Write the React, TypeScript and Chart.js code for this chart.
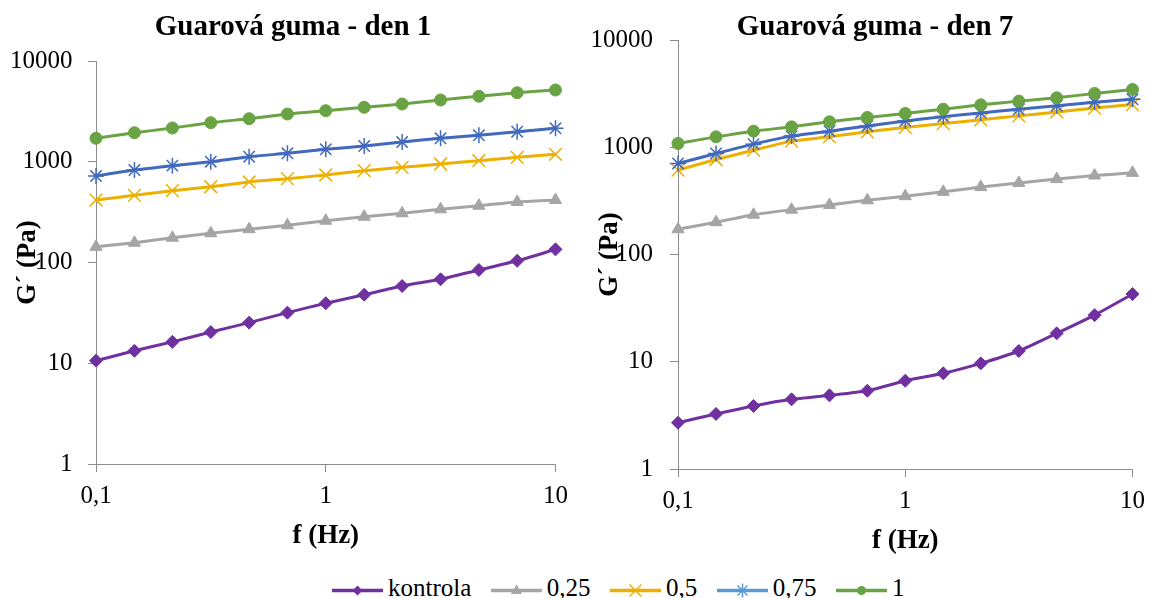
import React, { useEffect, useRef } from "react";
import { Chart, registerables } from "chart.js";

Chart.register(...registerables);

// ---------- data ----------
const frequencies = [0.1, 0.147, 0.215, 0.316, 0.464, 0.681, 1, 1.47, 2.15, 3.16, 4.64, 6.81, 10];
const seriesNames = ["kontrola", "0,25", "0,5", "0,75", "1"];

const day1Kontrola = [10.6, 13.3, 16.3, 20.4, 25.3, 31.8, 39.4, 47.9, 58.5, 68.1, 84.3, 104, 135];
const day1C025 = [143, 157, 176, 195, 214, 234, 260, 285, 308, 337, 366, 399, 417];
const day1C05 = [417, 464, 516, 565, 630, 679, 739, 815, 881, 950, 1024, 1107, 1186];
const day1C075 = [722, 828, 914, 1001, 1122, 1213, 1330, 1433, 1570, 1710, 1832, 1987, 2148];
const day1C1 = [1710, 1941, 2162, 2442, 2675, 2977, 3213, 3470, 3741, 4102, 4466, 4844, 5155];

const day7Kontrola = [2.7, 3.26, 3.87, 4.46, 4.86, 5.37, 6.65, 7.8, 9.66, 12.6, 18.4, 27.2, 42.8];
const day7C025 = [172, 200, 235, 262, 290, 320, 350, 384, 425, 465, 505, 545, 577];
const day7C05 = [611, 769, 939, 1141, 1250, 1393, 1530, 1662, 1802, 1961, 2133, 2320, 2500];
const day7C075 = [706, 875, 1069, 1270, 1413, 1580, 1760, 1930, 2090, 2260, 2440, 2630, 2800];
const day7C1 = [1085, 1250, 1413, 1550, 1726, 1896, 2066, 2266, 2487, 2692, 2891, 3177, 3461];

const yTickValues = [1, 10, 100, 1000, 10000];
const yTickLabels = ["1", "10", "100", "1000", "10000"];
const xTickValues = [0.1, 1, 10];
const xTickLabels = ["0,1", "1", "10"];

const chartTitles = ["Guarová guma - den 1", "Guarová guma - den 7"];
const xAxisTitle = "f (Hz)";
const yAxisTitle = "G´ (Pa)";

// ---------- styles ----------
const FONT = '"Liberation Serif", "Times New Roman", serif';
const AXIS_GRAY = "#8c8c8c";
const seriesColors = ["#7030A0", "#A5A5A5", "#EDB000", "#4169BE", "#6AA343"];
const legendColors = ["#7030A0", "#A5A5A5", "#EDB000", "#5B9BD5", "#6AA343"];
const seriesPointStyles = ["rectRot", "triangle", "crossRot", "star", "circle"];
const seriesPointRadius = [6.5, 7, 9, 8, 6];

const W = 577;
const H = 560;

const panels = [
  {
    canvasLeft: 0,
    chartLeft: 96,
    chartRight: 557,
    chartTop: 61,
    chartBottom: 464,
    titleX: 293,
    titleY: 28,
    yTitlePad: 11.8,
    xTitlePad: 7.8,
    yTickPad: 15.5,
    xTickPad: 9,
    title: chartTitles[0],
    series: [day1Kontrola, day1C025, day1C05, day1C075, day1C1],
  },
  {
    canvasLeft: 577,
    chartLeft: 101,
    chartRight: 560,
    chartTop: 40,
    chartBottom: 469,
    titleX: 298,
    titleY: 28,
    yTitlePad: 16.8,
    xTitlePad: 2.8,
    yTickPad: 17,
    xTickPad: 9,
    title: chartTitles[1],
    series: [day7Kontrola, day7C025, day7C05, day7C075, day7C1],
  },
];

const panelTitlePlugin = {
  id: "panelTitle",
  afterDraw(chart: any, _args: any, opts: any) {
    const ctx = chart.ctx;
    ctx.save();
    ctx.font = `bold 29px ${FONT}`;
    ctx.fillStyle = "#000";
    ctx.textAlign = "center";
    ctx.textBaseline = "middle";
    ctx.fillText(opts.text, opts.x, opts.y);
    ctx.restore();
  },
};

function Panel({ cfg }: { cfg: (typeof panels)[number] }) {
  const ref = useRef<HTMLCanvasElement | null>(null);
  useEffect(() => {
    if (!ref.current) return;
    const datasets = cfg.series.map((vals, i) => ({
      label: seriesNames[i],
      data: frequencies.map((f, k) => ({ x: f, y: vals[k] })),
      borderColor: seriesColors[i],
      backgroundColor: seriesColors[i],
      borderWidth: 3,
      pointStyle: seriesPointStyles[i],
      pointRadius: seriesPointRadius[i],
      pointBackgroundColor: seriesColors[i],
      pointBorderColor: seriesColors[i],
      pointBorderWidth: i === 2 || i === 3 ? 1.5 : 1,
      tension: 0.2,
      clip: false,
      order: 5 - i,
    }));
    const chart = new Chart(ref.current, {
      type: "line",
      data: { datasets },
      plugins: [panelTitlePlugin],
      options: {
        animation: false,
        responsive: false,
        events: [],
        layout: {
          padding: { top: cfg.chartTop, left: 0, right: W - cfg.chartRight, bottom: 0 },
        },
        plugins: {
          legend: { display: false },
          tooltip: { enabled: false },
          title: { display: false },
          panelTitle: { text: cfg.title, x: cfg.titleX, y: cfg.titleY },
        } as any,
        scales: {
          x: {
            type: "logarithmic",
            min: 0.1,
            max: 10,
            afterBuildTicks: (s: any) => {
              s.ticks = xTickValues.map((v) => ({ value: v }));
            },
            afterFit: (s: any) => {
              s.height = H - cfg.chartBottom;
            },
            ticks: {
              autoSkip: false,
              maxRotation: 0,
              padding: cfg.xTickPad,
              color: "#000",
              font: { family: FONT, size: 25 },
              callback: (v: any) => xTickLabels[xTickValues.indexOf(Number(v))] ?? "",
            },
            grid: { drawOnChartArea: false, drawTicks: true, tickLength: 8, color: AXIS_GRAY, lineWidth: 1 },
            border: { display: true, color: AXIS_GRAY, width: 1 },
            title: {
              display: true,
              text: xAxisTitle,
              color: "#000",
              font: { family: FONT, size: 27, weight: "bold" },
              padding: { top: 0, bottom: cfg.xTitlePad },
            },
          },
          y: {
            type: "logarithmic",
            min: 1,
            max: 10000,
            afterBuildTicks: (s: any) => {
              s.ticks = yTickValues.map((v) => ({ value: v }));
            },
            afterFit: (s: any) => {
              s.width = cfg.chartLeft;
            },
            ticks: {
              autoSkip: false,
              padding: cfg.yTickPad,
              color: "#000",
              font: { family: FONT, size: 25 },
              callback: (v: any) => yTickLabels[yTickValues.indexOf(Number(v))] ?? "",
            },
            grid: { drawOnChartArea: false, drawTicks: true, tickLength: 8, color: AXIS_GRAY, lineWidth: 1 },
            border: { display: true, color: AXIS_GRAY, width: 1 },
            title: {
              display: true,
              text: yAxisTitle,
              color: "#000",
              font: { family: FONT, size: 27, weight: "bold" },
              padding: { top: cfg.yTitlePad, bottom: 0 },
            },
          },
        },
      } as any,
    });
    return () => chart.destroy();
  }, [cfg]);
  return (
    <canvas
      ref={ref}
      width={W}
      height={H}
      style={{ position: "absolute", left: cfg.canvasLeft, top: 0, width: W, height: H }}
    />
  );
}

function LegendMarker({ i }: { i: number }) {
  const c = legendColors[i];
  const cx = 25.5;
  const cy = 17.5;
  let marker: React.ReactNode = null;
  if (i === 0) {
    marker = <polygon points={`${cx},${cy - 5} ${cx + 5},${cy} ${cx},${cy + 5} ${cx - 5},${cy}`} fill={c} />;
  } else if (i === 1) {
    marker = <polygon points={`${cx},${cy - 6} ${cx + 5.5},${cy + 3.5} ${cx - 5.5},${cy + 3.5}`} fill={c} />;
  } else if (i === 2) {
    marker = (
      <g stroke={c} strokeWidth={1.5}>
        <line x1={cx - 6} y1={cy - 6} x2={cx + 6} y2={cy + 6} />
        <line x1={cx - 6} y1={cy + 6} x2={cx + 6} y2={cy - 6} />
      </g>
    );
  } else if (i === 3) {
    marker = (
      <g stroke={c} strokeWidth={1.5}>
        <line x1={cx - 5} y1={cy - 5} x2={cx + 5} y2={cy + 5} />
        <line x1={cx - 5} y1={cy + 5} x2={cx + 5} y2={cy - 5} />
        <line x1={cx} y1={cy - 7} x2={cx} y2={cy + 7} />
      </g>
    );
  } else {
    marker = <circle cx={cx} cy={cy} r={4.5} fill={c} />;
  }
  return (
    <svg width={51} height={30} style={{ display: "block" }}>
      <line x1={0} y1={cy} x2={51} y2={cy} stroke={c} strokeWidth={3.5} />
      {marker}
    </svg>
  );
}

export default function App() {
  return (
    <div
      style={{
        position: "absolute",
        left: 0,
        top: 0,
        width: 1154,
        height: 598,
        background: "#fff",
        overflow: "hidden",
      }}
    >
      {panels.map((p, i) => (
        <Panel key={i} cfg={p} />
      ))}
      <div
        style={{
          position: "absolute",
          left: 332,
          top: 572.6,
          height: 30,
          display: "flex",
          alignItems: "flex-start",
          fontFamily: FONT,
          fontSize: 25,
          lineHeight: "30px",
          color: "#000",
          whiteSpace: "nowrap",
        }}
      >
        {seriesNames.map((n, i) => (
          <div key={n} style={{ display: "flex", alignItems: "flex-start", marginRight: 19.5 }}>
            <LegendMarker i={i} />
            <span style={{ marginLeft: 5 }}>{n}</span>
          </div>
        ))}
      </div>
    </div>
  );
}
